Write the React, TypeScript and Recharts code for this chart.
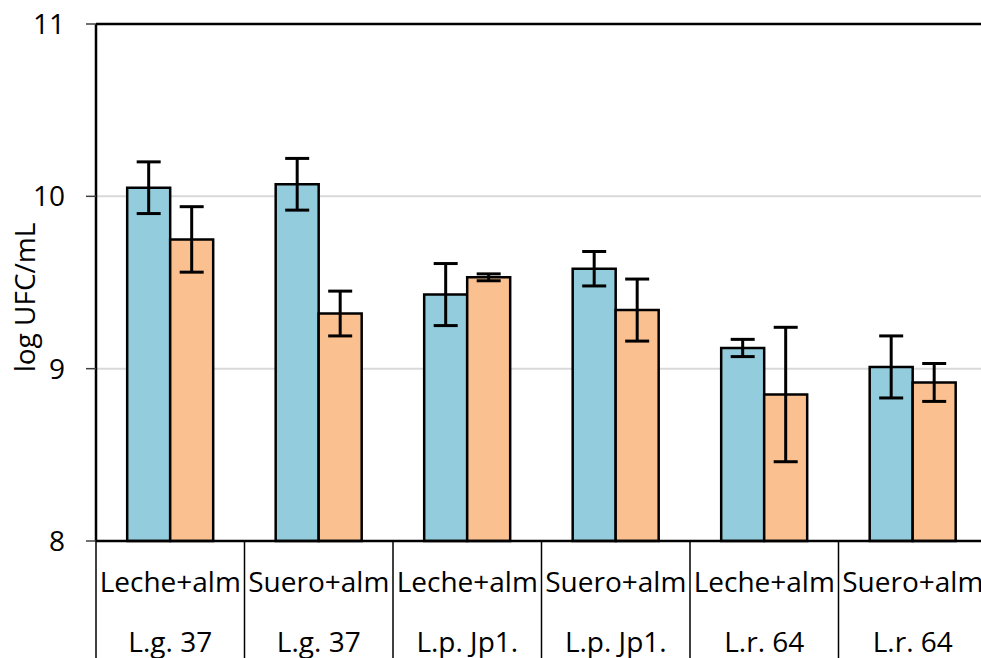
import React from "react";
import {
  BarChart,
  Bar,
  XAxis,
  YAxis,
  CartesianGrid,
  ErrorBar,
  ReferenceLine,
  Label,
} from "recharts";

// carriers and strains (two-level category axis)
const carriers = ["Leche+alm", "Suero+alm", "Leche+alm", "Suero+alm", "Leche+alm", "Suero+alm"];
const strains = ["L.g. 37", "L.g. 37", "L.p. Jp1.", "L.p. Jp1.", "L.r. 64", "L.r. 64"];

// log UFC/mL
const blueMeans = [10.05, 10.07, 9.43, 9.58, 9.12, 9.01];
const blueErr = [0.15, 0.15, 0.18, 0.1, 0.05, 0.18];
const orangeMeans = [9.75, 9.32, 9.53, 9.34, 8.85, 8.92];
const orangeErr = [0.19, 0.13, 0.02, 0.18, 0.39, 0.11];

const yTicks = [8, 9, 10, 11];

const CHART_W = 1000;
const CHART_H = 658;
const MARGIN = { top: 24, right: 13, left: 0, bottom: 0 };
const Y_AXIS_W = 96;
const X_AXIS_H = 117;
const FONT = "'Open Sans', sans-serif";

const data = carriers.map((c, i) => ({
  key: `${c}|${strains[i]}`,
  carrier: c,
  strain: strains[i],
  blue: blueMeans[i],
  blueErr: blueErr[i],
  orange: orangeMeans[i],
  orangeErr: orangeErr[i],
}));

const bandWidth = (CHART_W - MARGIN.left - MARGIN.right - Y_AXIS_W) / data.length;

function CategoryTick(props: any) {
  const { x, y, index } = props;
  const d = data[index];
  const left = x - bandWidth / 2;
  return (
    <g>
      <line x1={left} y1={y} x2={left} y2={y + X_AXIS_H} stroke="#000" strokeWidth={1.5} />
      {index === data.length - 1 && (
        <line
          x1={left + bandWidth}
          y1={y}
          x2={left + bandWidth}
          y2={y + X_AXIS_H}
          stroke="#000"
          strokeWidth={1.5}
        />
      )}
      <text x={x} y={y + 51} textAnchor="middle" fontSize={28} fontFamily={FONT} fill="#000">
        {d.carrier}
      </text>
      <text x={x} y={y + 111} textAnchor="middle" fontSize={28} fontFamily={FONT} fill="#000">
        {d.strain}
      </text>
    </g>
  );
}

export default function App() {
  return (
    <div
      style={{
        position: "absolute",
        left: 0,
        top: 0,
        width: 981,
        height: 658,
        overflow: "hidden",
        background: "#fff",
      }}
    >
      <BarChart
        width={CHART_W}
        height={CHART_H}
        data={data}
        margin={MARGIN}
        barCategoryGap="21%"
        barGap={0}
      >
        <CartesianGrid vertical={false} stroke="#d9d9d9" strokeWidth={2} />
        <XAxis
          dataKey="key"
          height={X_AXIS_H}
          interval={0}
          tickLine={false}
          tickSize={0}
          tickMargin={0}
          axisLine={{ stroke: "#000", strokeWidth: 2.5 }}
          tick={<CategoryTick />}
        />
        <YAxis
          width={Y_AXIS_W}
          domain={[8, 11]}
          ticks={yTicks}
          interval={0}
          tickSize={10}
          tickMargin={21}
          axisLine={{ stroke: "#000", strokeWidth: 2.5 }}
          tickLine={{ stroke: "#404040", strokeWidth: 1.5 }}
          tick={{ fontSize: 28, fontFamily: FONT, fill: "#000" }}
        >
          <Label
            content={(p: any) => {
              const vb = p.viewBox;
              const cx = 24;
              const cy = vb.y + vb.height / 2 + 15;
              return (
                <text
                  x={cx}
                  y={cy}
                  transform={`rotate(-90, ${cx}, ${cy})`}
                  textAnchor="middle"
                  dominantBaseline="central"
                  fontSize={28}
                  fontFamily={FONT}
                  fill="#000"
                >
                  log UFC/mL
                </text>
              );
            }}
          />
        </YAxis>
        <ReferenceLine y={11} stroke="#000" strokeWidth={2.5} />
        <Bar dataKey="blue" fill="#93CDDD" stroke="#000" strokeWidth={2.5} isAnimationActive={false}>
          <ErrorBar dataKey="blueErr" width={12} stroke="#000" strokeWidth={3} />
        </Bar>
        <Bar dataKey="orange" fill="#FAC090" stroke="#000" strokeWidth={2.5} isAnimationActive={false}>
          <ErrorBar dataKey="orangeErr" width={12} stroke="#000" strokeWidth={3} />
        </Bar>
      </BarChart>
    </div>
  );
}
